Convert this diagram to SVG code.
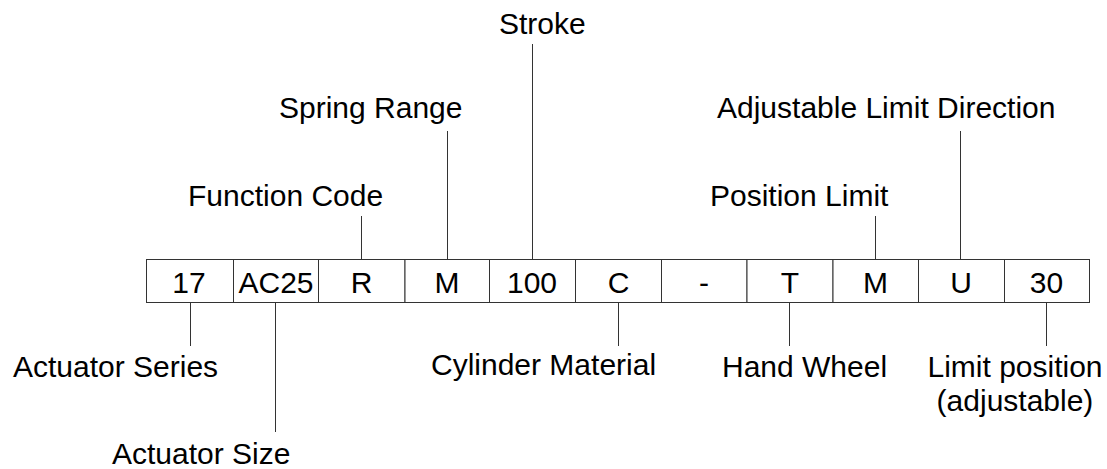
<svg xmlns="http://www.w3.org/2000/svg" width="1107" height="469" viewBox="0 0 1107 469">
<style>
text{font-family:"Liberation Sans",Arial,sans-serif;font-size:30px;fill:#000}
.cell{fill:#fff;stroke:#333;stroke-width:1}
.c{text-anchor:middle}
.ln{stroke:#333;stroke-width:1;fill:none}
</style>
<rect width="1107" height="469" fill="#fff"/>
<g id="code">
<g id="cell-17"><rect class="cell" x="146.5" y="259.5" width="87" height="43"/><text class="c" x="189" y="293">17</text></g>
<g id="cell-AC25"><rect class="cell" x="233.5" y="259.5" width="85" height="43"/><text class="c" x="276" y="293">AC25</text></g>
<g id="cell-R"><rect class="cell" x="318.5" y="259.5" width="86.5" height="43"/><text class="c" x="361.5" y="293">R</text></g>
<g id="cell-M1"><rect class="cell" x="405" y="259.5" width="84.5" height="43"/><text class="c" x="447" y="293">M</text></g>
<g id="cell-100"><rect class="cell" x="489.5" y="259.5" width="86" height="43"/><text class="c" x="532" y="293">100</text></g>
<g id="cell-C"><rect class="cell" x="575.5" y="259.5" width="86" height="43"/><text class="c" x="618.5" y="293">C</text></g>
<g id="cell-dash"><rect class="cell" x="661.5" y="259.5" width="85.5" height="43"/><text class="c" x="704" y="293">-</text></g>
<g id="cell-T"><rect class="cell" x="747" y="259.5" width="86" height="43"/><text class="c" x="790" y="293">T</text></g>
<g id="cell-M2"><rect class="cell" x="833" y="259.5" width="85.5" height="43"/><text class="c" x="875.5" y="293">M</text></g>
<g id="cell-U"><rect class="cell" x="918.5" y="259.5" width="86" height="43"/><text class="c" x="961" y="293">U</text></g>
<g id="cell-30"><rect class="cell" x="1004.5" y="259.5" width="85" height="43"/><text class="c" x="1046.5" y="293">30</text></g>
</g>
<g id="connectors">
<line class="ln" x1="361.5" y1="216" x2="361.5" y2="259.5"/>
<line class="ln" x1="447.5" y1="131" x2="447.5" y2="259.5"/>
<line class="ln" x1="532.5" y1="44" x2="532.5" y2="259.5"/>
<line class="ln" x1="875.5" y1="216" x2="875.5" y2="259.5"/>
<line class="ln" x1="960.5" y1="131" x2="960.5" y2="259.5"/>
<line class="ln" x1="190.5" y1="302.5" x2="190.5" y2="346"/>
<line class="ln" x1="275.5" y1="302.5" x2="275.5" y2="432"/>
<line class="ln" x1="618.5" y1="302.5" x2="618.5" y2="346"/>
<line class="ln" x1="789.5" y1="302.5" x2="789.5" y2="346"/>
<line class="ln" x1="1046.5" y1="302.5" x2="1046.5" y2="346"/>
</g>
<g id="labels">
<text id="lbl-stroke" x="499" y="34">Stroke</text>
<text id="lbl-spring" x="279" y="118">Spring Range</text>
<text id="lbl-function" x="188" y="206">Function Code</text>
<text id="lbl-adjdir" x="717" y="118">Adjustable Limit Direction</text>
<text id="lbl-poslimit" x="710" y="206">Position Limit</text>
<text id="lbl-series" x="13" y="377">Actuator Series</text>
<text id="lbl-size" x="112" y="464">Actuator Size</text>
<text id="lbl-cylinder" x="431" y="375">Cylinder Material</text>
<text id="lbl-hand" x="722" y="377">Hand Wheel</text>
<text id="lbl-limit" class="c" x="1015" y="377">Limit position<tspan x="1015" dy="34">(adjustable)</tspan></text>
</g>
</svg>
